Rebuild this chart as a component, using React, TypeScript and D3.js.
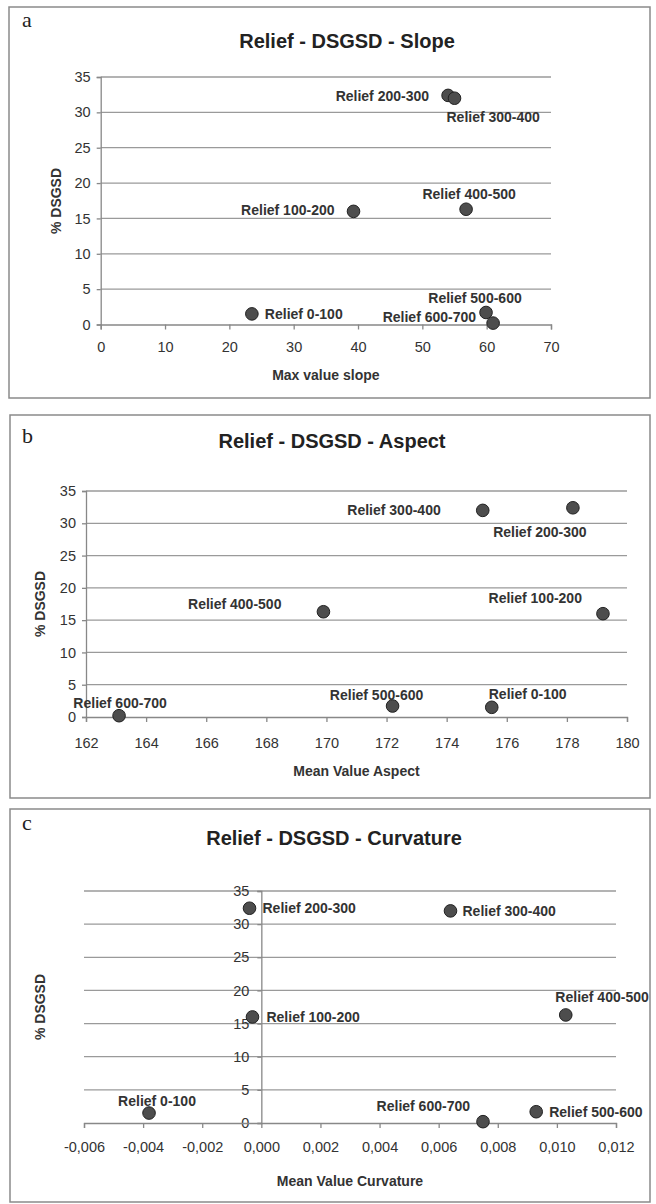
import * as d3 from 'd3';
import { useEffect, useRef } from 'react';

// relief classes and % DSGSD (same for all three panels)
const reliefClasses = ['Relief 0-100', 'Relief 100-200', 'Relief 200-300', 'Relief 300-400', 'Relief 400-500', 'Relief 500-600', 'Relief 600-700'];
const dsgsdPercent = [1.5, 16.0, 32.4, 32.0, 16.3, 1.7, 0.2];

// x values per panel
const maxSlope = [23.5, 39.3, 54.0, 55.0, 56.8, 59.9, 61.0];
const meanAspect = [175.5, 179.2, 178.2, 175.2, 169.9, 172.2, 163.1];
const meanCurvature = [-0.0038, -0.0003, -0.0004, 0.0064, 0.0103, 0.0093, 0.0075];

// tick values
const dsgsdTicks = [0, 5, 10, 15, 20, 25, 30, 35];
const slopeTicks = [0, 10, 20, 30, 40, 50, 60, 70];
const aspectTicks = [162, 164, 166, 168, 170, 172, 174, 176, 178, 180];
const curvatureTicks = [-0.006, -0.004, -0.002, 0, 0.002, 0.004, 0.006, 0.008, 0.01, 0.012];

const itLocale = d3.formatLocale({ decimal: ',', thousands: '.', grouping: [3], currency: ['', '€'], minus: '-' });

type Placement = [number, number, string];

// label placement next to each point (dx, dy, anchor), same order as reliefClasses
const placeA: Placement[] = [[13, 0, 'start'], [-19, -1, 'end'], [-19, 1, 'end'], [-8, 19, 'start'], [3, -15, 'middle'], [-11, -14, 'middle'], [-17, -6, 'end']];
const placeB: Placement[] = [[-3, -13, 'start'], [-21, -16, 'end'], [-33, 24, 'middle'], [-42, 0, 'end'], [-42, -8, 'end'], [-16, -11, 'middle'], [1, -13, 'middle']];
const placeC: Placement[] = [[8, -12, 'middle'], [14, 0, 'start'], [13, 0, 'start'], [12, 0, 'start'], [83, -18, 'end'], [13, 0, 'start'], [-13, -16, 'end']];

const panels = [
  {
    letter: 'a', title: 'Relief - DSGSD - Slope', xTitle: 'Max value slope',
    xs: maxSlope, xTicks: slopeTicks, xFmt: (d: number) => String(d), place: placeA,
    box: [9, 7, 650, 398], plot: [100.7, 551, 77, 324.5],
    titlePos: [347, 48], letterPos: [22, 27], yTitlePos: [56, 201], xTickY: 352, xTitleY: 380, yAxisAtZero: false,
  },
  {
    letter: 'b', title: 'Relief - DSGSD - Aspect', xTitle: 'Mean Value Aspect',
    xs: meanAspect, xTicks: aspectTicks, xFmt: (d: number) => String(d), place: placeB,
    box: [10, 415, 650, 798], plot: [86, 627, 491, 717],
    titlePos: [332, 448], letterPos: [22, 443], yTitlePos: [40, 604], xTickY: 748, xTitleY: 776, yAxisAtZero: false,
  },
  {
    letter: 'c', title: 'Relief - DSGSD - Curvature', xTitle: 'Mean Value Curvature',
    xs: meanCurvature, xTicks: curvatureTicks, xFmt: itLocale.format('.3f'), place: placeC,
    box: [10, 809, 650, 1202], plot: [84, 616, 891, 1123],
    titlePos: [334, 845], letterPos: [22, 830], yTitlePos: [40, 1007], xTickY: 1152, xTitleY: 1186, yAxisAtZero: true,
  },
];

const font = "'Liberation Sans', Arial, sans-serif";

const App = () => {
  const ref = useRef<SVGSVGElement>(null);

  useEffect(() => {
    const svg = d3.select(ref.current);
    svg.selectAll('*').remove();

    panels.forEach(p => {
      const [left, right, top, bottom] = p.plot;
      const x = d3.scaleLinear()
        .domain([p.xTicks[0], p.xTicks[p.xTicks.length - 1]])
        .range([left, right]);
      const y = d3.scaleLinear()
        .domain([0, 35])
        .range([bottom, top]);

      const g = svg.append('g');

      // frame
      g.append('rect')
        .attr('x', p.box[0]).attr('y', p.box[1])
        .attr('width', p.box[2] - p.box[0]).attr('height', p.box[3] - p.box[1])
        .attr('fill', 'white').attr('stroke', '#8a8a8a').attr('stroke-width', 1.5);

      g.append('text')
        .attr('x', p.letterPos[0]).attr('y', p.letterPos[1])
        .attr('font-family', "'Liberation Serif', 'Times New Roman', serif")
        .attr('font-size', 22).attr('fill', '#222')
        .text(p.letter);

      g.append('text')
        .attr('x', p.titlePos[0]).attr('y', p.titlePos[1])
        .attr('text-anchor', 'middle')
        .attr('font-family', font).attr('font-weight', 'bold').attr('font-size', 20)
        .attr('fill', '#222')
        .text(p.title);

      // horizontal gridlines
      g.selectAll('.grid')
        .data(dsgsdTicks.filter(d => d > 0))
        .enter().append('line')
        .attr('x1', left).attr('x2', right)
        .attr('y1', d => y(d)).attr('y2', d => y(d))
        .attr('stroke', '#9a9a9a').attr('stroke-width', 1.3);

      // y axis
      const yAxisX = p.yAxisAtZero ? x(0) : left;
      const yAxis = g.append('g')
        .attr('transform', `translate(${yAxisX},0)`)
        .call(d3.axisLeft(y).tickValues(dsgsdTicks).tickSize(4).tickPadding(p.yAxisAtZero ? 8 : 6));
      yAxis.select('.domain').attr('stroke', '#888').attr('stroke-width', 1.3);
      yAxis.selectAll('.tick line').attr('stroke', '#888').attr('stroke-width', 1.3);
      yAxis.selectAll('.tick text')
        .attr('font-family', font).attr('font-size', 14.5).attr('fill', '#333');

      // x axis
      const xAxis = g.append('g')
        .attr('transform', `translate(0,${y(0)})`)
        .call(d3.axisBottom(x).tickValues(p.xTicks).tickFormat(d => p.xFmt(d as number)).tickSize(5).tickPadding(0));
      xAxis.select('.domain').attr('stroke', '#888').attr('stroke-width', 1.3);
      xAxis.selectAll('.tick line').attr('stroke', '#888').attr('stroke-width', 1.3);
      xAxis.selectAll('.tick text')
        .attr('y', p.xTickY - y(0)).attr('dy', 0)
        .attr('font-family', font).attr('font-size', 14.5).attr('fill', '#333');

      // axis titles
      g.append('text')
        .attr('x', (left + right) / 2).attr('y', p.xTitleY)
        .attr('text-anchor', 'middle')
        .attr('font-family', font).attr('font-weight', 'bold').attr('font-size', 14).attr('fill', '#333')
        .text(p.xTitle);

      g.append('text')
        .attr('transform', `translate(${p.yTitlePos[0]},${p.yTitlePos[1]}) rotate(-90)`)
        .attr('text-anchor', 'middle').attr('dominant-baseline', 'central')
        .attr('font-family', font).attr('font-weight', 'bold').attr('font-size', 14).attr('fill', '#333')
        .text('% DSGSD');

      // points
      const rows = reliefClasses.map((name, i) => ({ name, xv: p.xs[i], yv: dsgsdPercent[i], pl: p.place[i] }));

      g.selectAll('.pt')
        .data(rows)
        .enter().append('circle')
        .attr('cx', d => x(d.xv)).attr('cy', d => y(d.yv))
        .attr('r', 6.3)
        .attr('fill', '#4d4d4d').attr('stroke', '#222').attr('stroke-width', 1);

      g.selectAll('.lbl')
        .data(rows)
        .enter().append('text')
        .attr('x', d => x(d.xv) + d.pl[0]).attr('y', d => y(d.yv) + d.pl[1])
        .attr('text-anchor', d => d.pl[2])
        .attr('dominant-baseline', 'central')
        .attr('font-family', font).attr('font-weight', 'bold').attr('font-size', 14).attr('fill', '#333')
        .text(d => d.name);
    });
  }, []);

  return (
    <svg ref={ref} width={656} height={1204} style={{ position: 'absolute', left: 0, top: 0, background: 'white' }} />
  );
};

export default App;
